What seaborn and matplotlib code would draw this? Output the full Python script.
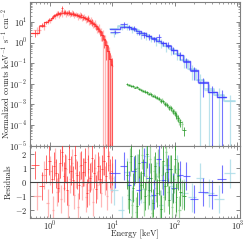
import numpy as np
import pandas as pd
import matplotlib
matplotlib.use("Agg")
import matplotlib.pyplot as plt
import seaborn as sns

# ---------------- data ----------------
E_red = [0.58, 0.76, 0.88, 0.98, 1.07, 1.15, 1.24, 1.33, 1.43, 1.54, 1.65, 1.77, 1.90, 2.04, 2.19, 2.35,
         2.52, 2.71, 2.91, 3.12, 3.35, 3.60, 3.86, 4.14, 4.45, 4.77, 5.12, 5.50, 5.90, 6.33, 6.80, 7.30,
         7.83, 8.40, 9.02, 9.68]
F_red = [2.9, 7.0, 9.5, 13.0, 16.0, 21.0, 24.0, 27.0, 25.0, 45.0, 29.0, 31.0, 27.0, 30.0, 25.0, 27.0,
         23.0, 22.0, 20.0, 21.0, 17.0, 16.0, 14.0, 15.0, 11.0, 10.0, 8.0, 6.0, 4.8, 3.3, 2.4, 1.4,
         0.75, 0.4, 0.16, 0.09]
RE_red = [0.35, 0.2, 0.2, 0.15, 0.15, 0.15, 0.15, 0.2, 0.2, 0.3, 0.2, 0.25, 0.2, 0.25, 0.2, 0.25,
          0.2, 0.25, 0.2, 0.25, 0.25, 0.25, 0.3, 0.3, 0.3, 0.35, 0.3, 0.35, 0.35, 0.4, 0.5, 0.6,
          0.8, 1.0, 1.0, 1.0]
M_red = [3.0, 6.5, 10, 13, 16, 19, 22, 24, 26, 27, 27.5, 27.5, 27, 26, 25, 24,
         22.5, 21, 19.5, 18, 16.5, 15, 13.5, 12, 10.5, 9, 7.5, 6, 4.7, 3.5, 2.4, 1.5,
         0.8, 0.38, 0.16, 0.08]
R_red = [1.2, -0.3, 0.9, 1.5, 0.2, 1.1, 0.6, -0.4, 1.3, 2.1, 0.4, 1.0, -0.6, 1.6, 0.8, 0.1,
         1.9, 0.5, -0.2, 1.2, 0.7, 1.4, -0.8, 0.9, 0.3, 1.7, 0.6, -0.5, 1.1, 0.2, 0.9, 1.5,
         0.4, 1.8, 0.6, 0.8]

E_pink = [0.62, 0.81, 0.93, 1.02, 1.11, 1.19, 1.28, 1.38, 1.48, 1.59, 1.71, 1.83, 1.97, 2.11, 2.27, 2.43,
          2.61, 2.81, 3.01, 3.23, 3.47, 3.73, 4.00, 4.29, 4.61, 4.94, 5.31, 5.70, 6.11, 6.56, 7.04, 7.55,
          8.10, 8.69, 9.33, 10.0]
F_pink = [4.0, 6.0, 11.0, 12.0, 18.0, 19.0, 26.0, 23.0, 30.0, 26.0, 32.0, 25.0, 29.0, 24.0, 28.0, 22.0,
          24.0, 19.0, 22.0, 17.0, 18.0, 14.0, 16.0, 12.0, 12.0, 9.0, 8.5, 5.5, 5.0, 3.0, 2.0, 1.1,
          0.6, 0.3, 0.13, 0.07]
RE_pink = [0.4, 0.3, 0.3, 0.25, 0.25, 0.25, 0.3, 0.3, 0.3, 0.3, 0.3, 0.3, 0.3, 0.3, 0.3, 0.3,
           0.3, 0.35, 0.35, 0.35, 0.35, 0.4, 0.4, 0.4, 0.4, 0.45, 0.45, 0.5, 0.5, 0.6, 1.0, 1.0,
           1.0, 1.0, 1.0, 1.0]
R_pink = [-1.0, 0.5, -1.5, 0.8, -2.0, 1.4, -0.7, 0.3, -1.2, 1.8, -0.4, 0.9, -1.6, 0.2, 1.3, -0.9,
          0.6, -1.8, 1.1, -0.3, 0.7, -1.1, 1.6, -0.6, 0.4, -1.4, 1.0, -0.2, 0.8, -0.8, 1.5, 0.1,
          -1.0, 1.2, -0.5, 0.3]

E_blue = [11.0, 15.5, 18.5, 22.0, 26.5, 31.5, 38.0, 46.0, 55.0, 65.0, 78.0, 95.0, 120.0, 150.0,
          200.0, 280.0, 400.0, 560.0]
F_blue = [3.4, 7.5, 5.5, 5.0, 3.0, 2.4, 2.0, 1.5, 1.9, 0.95, 0.8, 0.45, 0.25, 0.12,
          0.04, 0.011, 0.004, 0.0024]
RE_blue = [0.25, 0.3, 0.25, 0.25, 0.25, 0.3, 0.3, 0.3, 0.4, 0.3, 0.35, 0.35, 0.4, 0.5,
           0.6, 0.8, 1.0, 1.0]
M_blue = [4.3, 5.6, 5.4, 4.6, 3.7, 2.8, 2.1, 1.6, 1.2, 0.9, 0.65, 0.44, 0.26, 0.13,
          0.045, 0.012, 0.004, 0.0022]
R_blue = [0.6, 1.1, -0.2, 0.8, -0.6, 1.4, 0.3, -0.9, 1.6, 0.1, 0.9, -0.4, 0.5, 0.4,
          -1.2, -0.7, -0.9, 0.2]

E_lblue = [10.5, 14.0, 17.0, 20.5, 24.5, 29.0, 35.0, 42.0, 50.0, 60.0, 72.0, 87.0, 108.0, 140.0,
           185.0, 250.0, 350.0, 500.0, 750.0]
F_lblue = [3.0, 6.0, 6.5, 4.5, 3.8, 2.6, 2.2, 1.7, 1.3, 1.0, 0.7, 0.5, 0.3, 0.15,
           0.05, 0.015, 0.005, 0.003, 0.0015]
RE_lblue = [0.35, 0.35, 0.35, 0.35, 0.4, 0.4, 0.4, 0.4, 0.45, 0.45, 0.5, 0.5, 0.5, 0.6,
            0.7, 1.0, 1.0, 1.0, 1.0]
M_lblue = [4.6, 6.0, 5.8, 4.9, 3.9, 3.0, 2.3, 1.75, 1.3, 0.98, 0.7, 0.48, 0.29, 0.14,
           0.05, 0.016, 0.0055, 0.003, 0.0015]
R_lblue = [-0.6, -2.0, 0.7, -1.3, 1.0, -0.5, 1.8, -1.0, 0.4, -1.6, 1.2, -0.3, 0.9, -0.8,
           -1.1, 0.3, -0.8, -1.2, 0.6]

E_green = [17.0, 18.5, 20.0, 21.5, 23.0, 24.5, 26.5, 28.5, 30.5, 33.0, 35.5, 38.0, 41.0, 44.0, 47.5,
           51.0, 55.0, 59.0, 63.5, 68.5, 74.0, 79.5, 85.5, 92.0, 99.0, 106.0, 114.0, 122.0, 139.0]
F_green = [0.0095, 0.0088, 0.0082, 0.0078, 0.0066, 0.0068, 0.0056, 0.0052, 0.0047, 0.0042, 0.0039,
           0.0033, 0.0031, 0.0026, 0.0024, 0.0021, 0.0019, 0.0015, 0.0014, 0.0011, 0.00098, 0.00072,
           0.00065, 0.00048, 0.00038, 0.00029, 0.00022, 0.00014, 0.000055]
RE_green = [0.1, 0.1, 0.1, 0.1, 0.1, 0.12, 0.12, 0.12, 0.12, 0.14, 0.14, 0.14, 0.15, 0.15, 0.16,
            0.16, 0.18, 0.18, 0.2, 0.2, 0.22, 0.22, 0.25, 0.25, 0.28, 0.3, 0.35, 0.4, 0.45]
R_green = [0.5, -1.2, 1.8, -0.4, 0.9, -1.7, 1.3, -0.2, 0.6, -1.0, 2.0, -0.6, 0.3, -1.5, 1.1,
           -0.8, 0.1, -1.9, 1.5, -0.3, 0.7, -1.3, 0.9, -0.5, 1.6, -1.1, 0.4, -0.7, -1.0]
E_lgreen = [17.6, 19.2, 20.7, 22.2, 23.8, 25.5, 27.5, 29.5, 31.8, 34.2, 36.8, 39.5, 42.5, 45.8, 49.2,
            53.0, 57.0, 61.2, 66.0, 71.2, 76.8, 82.5, 88.8, 95.5, 102.5, 110.0, 118.0, 130.0]
F_lgreen = [0.0092, 0.0085, 0.0079, 0.0072, 0.0069, 0.0061, 0.0057, 0.0049, 0.0046, 0.0040, 0.0036,
            0.0034, 0.0028, 0.0027, 0.0022, 0.0020, 0.0017, 0.0016, 0.0012, 0.0011, 0.00085, 0.00075,
            0.00055, 0.00045, 0.00034, 0.00026, 0.00018, 0.00011]
RE_lgreen = [0.12, 0.12, 0.12, 0.12, 0.13, 0.13, 0.14, 0.14, 0.15, 0.15, 0.16, 0.16, 0.17, 0.18,
             0.18, 0.2, 0.2, 0.22, 0.22, 0.24, 0.26, 0.28, 0.3, 0.32, 0.35, 0.38, 0.42, 0.5]
R_lgreen = [-0.9, 1.4, -1.6, 0.7, -2.1, 1.0, -0.3, 1.9, -1.4, 0.4, -0.9, 1.6, -2.2, 0.8, -0.4,
            1.3, -1.6, 0.5, -1.1, 2.1, -0.7, 0.9, -1.8, 0.2, -1.4, 0.6, -2.0, -0.9]

XTICKS = [1, 10, 100, 1000]

# ---------------- style ----------------
sns.set_theme(style="ticks")
plt.rcParams.update({
    "font.family": "serif",
    "font.serif": ["cmr10", "DejaVu Serif"],
    "mathtext.fontset": "cm",
    "axes.formatter.use_mathtext": True,
    "axes.unicode_minus": False,
    "font.size": 6,
    "xtick.labelsize": 6,
    "ytick.labelsize": 6,
    "axes.labelsize": 6,
})

fig = plt.figure(figsize=(2.49, 2.41), dpi=100)
ax1 = fig.add_axes([0.1205, 0.3954, 0.843, 0.5963])
ax2 = fig.add_axes([0.1205, 0.0954, 0.843, 0.3000], sharex=ax1)


def half_widths(E):
    e = np.asarray(E, dtype=float)
    mids = np.sqrt(e[1:] * e[:-1])
    lo = np.concatenate([[e[0] ** 2 / mids[0]], mids])
    hi = np.concatenate([mids, [e[-1] ** 2 / mids[-1]]])
    return e - lo, hi - e, lo, hi


def draw(E, F, RE, R, color, alpha, lw, M=None, z=2):
    e = np.asarray(E, float)
    f = np.asarray(F, float)
    re = np.asarray(RE, float)
    xl, xh, lo, hi = half_widths(E)
    ylo = np.minimum(f * re, f * 0.99999)
    ylo = np.where(re >= 1.0, f, ylo)
    yhi = f * re
    ax1.errorbar(e, f, xerr=[xl, xh], yerr=[ylo, yhi], fmt="none", ecolor=color,
                 elinewidth=lw, alpha=alpha, zorder=z)
    if M is not None:
        edges = list(lo) + [hi[-1]]
        vals = list(M) + [M[-1]]
        df = pd.DataFrame({"E": edges, "F": vals})
        sns.lineplot(data=df, x="E", y="F", ax=ax1, drawstyle="steps-post", color=color,
                     alpha=min(1.0, alpha + 0.1), lw=lw * 1.3, estimator=None, sort=False, zorder=z + 1)
    r = np.asarray(R, float)
    ax2.errorbar(e, r, xerr=[xl, xh], yerr=np.ones_like(r), fmt="none", ecolor=color,
                 elinewidth=lw, alpha=alpha, zorder=z)


draw(E_pink, F_pink, RE_pink, R_pink, "#ff9a9a", 0.7, 0.9, None, z=2)
draw(E_red, F_red, RE_red, R_red, "#ff2a2a", 0.7, 0.7, M_red, z=3)
draw(E_lblue, F_lblue, RE_lblue, R_lblue, "#a9dbe8", 0.8, 0.9, M_lblue, z=2)
draw(E_blue, F_blue, RE_blue, R_blue, "#3a3aff", 0.7, 0.8, M_blue, z=3)
draw(E_lgreen, F_lgreen, RE_lgreen, R_lgreen, "#8fd08f", 0.8, 0.9, None, z=2)
draw(E_green, F_green, RE_green, R_green, "#2a9a2a", 0.8, 0.7, None, z=3)

ax2.axhline(0, color="0.25", lw=0.8, zorder=5)

for ax in (ax1, ax2):
    ax.set_xscale("log")
    ax.set_xlim(0.48, 1100)
    for s in ax.spines.values():
        s.set_color("0.5")
        s.set_linewidth(0.8)
    ax.tick_params(which="both", direction="in", top=True, right=True, color="0.45")
    ax.tick_params(which="major", length=3, width=0.6)
    ax.tick_params(which="minor", length=1.6, width=0.5)
    ax.tick_params(axis="x", pad=1.5)
    ax.tick_params(axis="y", pad=2)

ax1.set_yscale("log")
ax1.set_ylim(1e-5, 92)
ax1.set_xlabel("")
ax1.tick_params(labelbottom=False)
ax1.set_ylabel(r"Normalized counts keV$^{-1}$ s$^{-1}$ cm$^{-2}$")
ax1.yaxis.set_label_coords(-0.085, 0.5)

ax2.set_ylim(-2.55, 2.55)
ax2.set_yticks([-2, -1, 0, 1, 2])
ax2.set_xticks(XTICKS)
ax2.set_xlabel("Energy [keV]")
ax2.xaxis.set_label_coords(0.5, -0.155)
ax2.set_ylabel("Residuals")
ax2.yaxis.set_label_coords(-0.08, 0.5)

fig.savefig("out.png", dpi=100)
